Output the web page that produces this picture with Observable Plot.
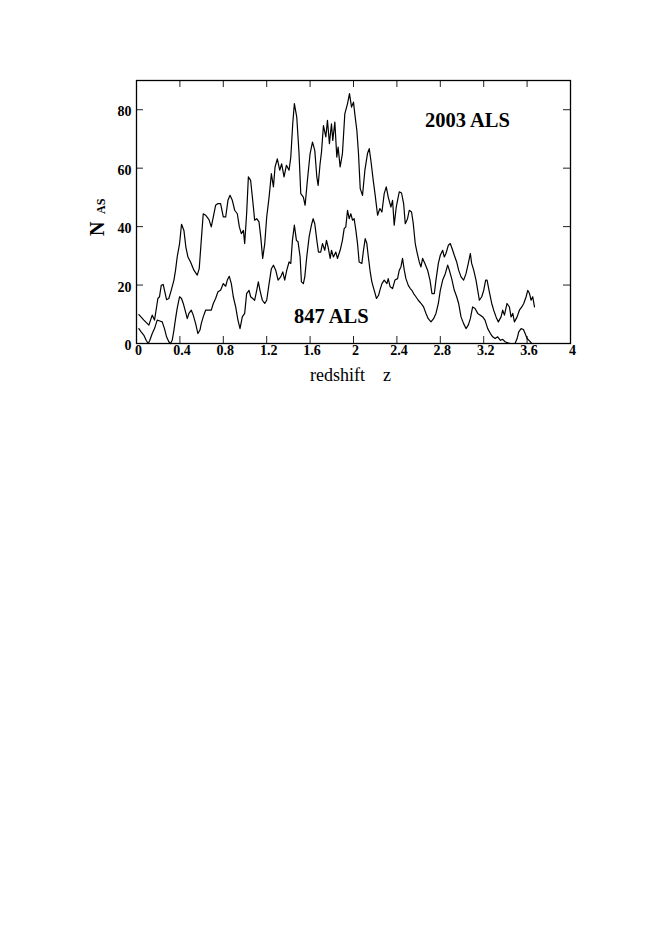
<!DOCTYPE html>
<html>
<head>
<meta charset="utf-8">
<script src="https://cdn.jsdelivr.net/npm/d3@7"></script>
<script src="https://cdn.jsdelivr.net/npm/@observablehq/plot@0.6"></script>
<style>
  html, body { margin: 0; padding: 0; background: #fff; }
  #chart svg { display: block; }
</style>
</head>
<body>
<div id="chart"></div>
<script>
// 2003 ALS sample
const zUpper = [0.022,0.068,0.114,0.145,0.166,0.185,0.197,0.212,0.228,0.246,0.258,0.277,0.298,0.320,0.345,0.360,0.375,0.397,0.415,0.437,0.455,0.474,0.498,0.529,0.560,0.578,0.597,0.615,0.637,0.668,0.689,0.708,0.729,0.751,0.775,0.800,0.822,0.843,0.862,0.883,0.905,0.929,0.948,0.966,0.985,0.997,1.015,1.031,1.052,1.074,1.089,1.108,1.129,1.145,1.163,1.182,1.200,1.222,1.243,1.262,1.277,1.298,1.320,1.338,1.360,1.382,1.406,1.422,1.440,1.455,1.477,1.498,1.514,1.538,1.554,1.575,1.600,1.622,1.643,1.662,1.674,1.692,1.705,1.723,1.745,1.760,1.778,1.797,1.809,1.828,1.846,1.858,1.877,1.898,1.920,1.945,1.963,1.982,2.000,2.012,2.031,2.046,2.062,2.083,2.105,2.129,2.145,2.160,2.182,2.200,2.222,2.243,2.262,2.283,2.302,2.320,2.345,2.360,2.375,2.394,2.412,2.422,2.443,2.462,2.477,2.498,2.514,2.535,2.551,2.569,2.585,2.606,2.622,2.637,2.658,2.683,2.705,2.723,2.745,2.760,2.782,2.800,2.822,2.837,2.852,2.874,2.892,2.914,2.929,2.951,2.969,2.991,3.015,3.037,3.058,3.077,3.089,3.108,3.129,3.145,3.160,3.182,3.200,3.218,3.231,3.252,3.274,3.292,3.314,3.335,3.360,3.375,3.391,3.415,3.437,3.452,3.468,3.483,3.508,3.529,3.551,3.569,3.591,3.606,3.622,3.637,3.652,3.668];
const nUpper = [9.9,8.0,6.3,9.7,8.0,12.5,15.4,16.0,19.9,20.2,18.2,15.0,15.4,18.2,21.7,25.1,29.6,34.2,40.8,38.7,33.0,29.6,27.9,25.1,23.4,25.6,35.3,44.4,43.9,42.4,39.9,43.3,47.3,47.9,47.9,43.3,43.3,49.0,50.7,49.0,45.6,44.4,39.9,37.6,38.7,34.2,44.4,57.0,55.8,47.9,42.2,42.7,41.6,36.5,29.1,34.2,43.3,50.1,58.1,53.6,60.4,63.2,59.3,61.5,57.0,61.0,59.3,63.8,75.2,82.1,77.5,65.0,51.3,50.1,47.3,55.8,65.0,68.9,66.1,57.0,54.1,61.5,65.5,74.6,70.7,76.4,68.4,75.2,69.5,75.8,63.8,67.2,60.4,65.0,78.6,82.1,85.5,80.9,82.6,78.6,72.9,65.0,53.0,50.7,59.3,65.0,66.7,62.7,55.8,50.7,43.9,46.2,45.0,51.3,53.6,50.1,46.7,49.0,40.5,46.7,50.1,51.9,51.5,47.9,41.0,42.7,45.6,45.0,41.0,34.2,31.3,27.9,26.2,29.1,27.4,25.1,21.7,17.1,17.1,21.7,27.4,30.2,31.9,29.6,30.8,33.6,34.2,31.9,30.2,27.9,25.1,22.8,21.7,23.9,27.4,30.8,27.4,25.1,21.7,18.2,14.8,16.0,18.2,21.7,21.7,17.7,13.7,11.4,9.1,7.4,9.1,11.4,9.7,13.7,12.5,9.1,10.3,7.4,9.1,11.4,12.5,13.7,16.0,18.2,17.1,14.8,16.0,12.5];

// 847 ALS sample
const zLower = [0.022,0.043,0.068,0.089,0.108,0.123,0.145,0.166,0.191,0.215,0.237,0.258,0.277,0.298,0.314,0.329,0.345,0.360,0.375,0.397,0.415,0.431,0.452,0.468,0.483,0.505,0.523,0.545,0.566,0.585,0.597,0.615,0.637,0.668,0.689,0.708,0.729,0.751,0.775,0.800,0.822,0.837,0.855,0.874,0.892,0.914,0.935,0.954,0.975,0.997,1.015,1.037,1.052,1.071,1.089,1.108,1.123,1.138,1.160,1.182,1.200,1.222,1.243,1.262,1.283,1.305,1.329,1.348,1.366,1.385,1.406,1.422,1.437,1.455,1.474,1.489,1.508,1.520,1.538,1.551,1.569,1.591,1.612,1.628,1.643,1.662,1.677,1.698,1.714,1.735,1.751,1.766,1.785,1.797,1.815,1.837,1.852,1.877,1.898,1.914,1.929,1.945,1.960,1.975,1.991,2.006,2.022,2.037,2.052,2.077,2.092,2.108,2.123,2.135,2.154,2.169,2.191,2.212,2.231,2.243,2.262,2.283,2.308,2.320,2.338,2.360,2.382,2.406,2.422,2.437,2.452,2.468,2.483,2.505,2.523,2.538,2.554,2.575,2.597,2.622,2.646,2.668,2.689,2.714,2.738,2.760,2.782,2.800,2.822,2.846,2.868,2.883,2.905,2.929,2.951,2.969,2.991,3.015,3.037,3.058,3.077,3.098,3.120,3.145,3.169,3.191,3.212,3.237,3.262,3.283,3.305,3.329,3.354,3.375,3.397,3.422,3.446,3.489,3.508,3.523,3.545,3.566,3.582,3.600,3.622,3.643,3.662];
const nLower = [5.1,4.0,2.8,1.1,0,1.1,3.4,5.1,8.0,7.7,7.4,5.1,2.3,0.6,0,1.1,4.6,8.5,12.0,16.0,15.4,13.7,10.8,8.5,10.3,11.4,9.7,6.8,3.4,4.6,6.8,9.1,11.4,11.4,11.4,13.7,15.4,17.7,18.2,20.5,19.6,21.7,23.0,20.5,16.0,12.5,8.0,5.1,9.1,10.3,17.1,18.2,16.0,15.4,14.8,18.2,21.1,18.2,14.8,13.7,14.8,20.5,25.6,26.8,25.1,21.7,22.8,24.5,21.7,25.1,27.9,27.4,35.3,40.5,35.3,34.8,29.6,21.1,20.5,22.8,29.6,36.5,40.5,42.7,41.0,35.3,31.3,31.3,34.2,31.9,35.3,33.0,29.1,31.9,29.6,31.3,29.1,31.9,35.3,39.3,39.9,45.6,42.7,44.4,42.2,42.7,38.7,34.2,27.9,27.4,31.9,35.9,34.2,30.2,24.5,21.1,18.2,15.4,16.5,18.2,20.5,21.7,20.5,22.2,19.4,18.8,21.7,22.2,25.1,26.2,29.1,25.1,22.2,19.9,18.8,18.2,17.1,16.0,14.8,13.7,12.5,10.3,8.5,7.4,8.5,10.3,13.7,18.2,21.7,23.9,26.8,25.1,22.2,18.2,16.0,13.7,9.1,6.8,5.1,6.3,8.5,12.5,12.0,10.3,9.7,9.1,8.0,5.1,3.4,2.3,1.7,2.3,1.1,1.4,0.6,0.2,0,0,1.7,4.0,5.1,4.8,3.4,1.7,0.9,0,0];

const xTicks = [0, 0.4, 0.8, 1.2, 1.6, 2, 2.4, 2.8, 3.2, 3.6, 4];
const xTickLabels = ["0", "0.4", "0.8", "1.2", "1.6", "2", "2.4", "2.8", "3.2", "3.6", "4"];
const yTicks = [0, 20, 40, 60, 80];
const yTickLabels = ["0", "20", "40", "60", "80"];
const seriesLabels = [
  {z: 3.05, n: 76.3, text: "2003 ALS"},
  {z: 1.795, n: 9.2, text: "847 ALS"}
];

const upper = zUpper.map((z, i) => ({z, n: nUpper[i]}));
const lower = zLower.map((z, i) => ({z, n: nLower[i]}));

const W = 654, H = 400;
const mL = 136, mR = 84, mT = 80, mB = 57;
const innerW = W - mL - mR, innerH = H - mT - mB;
const tickLen = 7;
const serif = "'Liberation Serif', 'Times New Roman', serif";

const chart = Plot.plot({
  width: W,
  height: H,
  marginLeft: mL,
  marginRight: mR,
  marginTop: mT,
  marginBottom: mB,
  style: {fontFamily: serif, background: "#fff", color: "#000", overflow: "visible"},
  x: {domain: [0, 4], axis: null},
  y: {domain: [0, 90], axis: null},
  marks: [
    // inward ticks
    Plot.tickX(xTicks, {x: d => d, insetTop: innerH - tickLen, stroke: "#222", strokeWidth: 1}),
    Plot.tickX(xTicks, {x: d => d, insetBottom: innerH - tickLen, stroke: "#222", strokeWidth: 1}),
    Plot.tickY(yTicks, {y: d => d, insetRight: innerW - tickLen, stroke: "#222", strokeWidth: 1}),
    Plot.tickY(yTicks, {y: d => d, insetLeft: innerW - tickLen, stroke: "#222", strokeWidth: 1}),
    // tick labels
    Plot.text(xTicks, {x: d => d, text: (d, i) => xTickLabels[i], frameAnchor: "bottom", lineAnchor: "top",
      dx: 2, dy: 2, fontSize: 14, fontWeight: "bold", fill: "#000"}),
    Plot.text(yTicks, {y: d => d, text: (d, i) => yTickLabels[i], frameAnchor: "left", textAnchor: "end",
      dx: -5, dy: 2, fontSize: 14, fontWeight: "bold", fill: "#000"}),
    Plot.line(upper, {x: "z", y: "n", stroke: "#000", strokeWidth: 1.2}),
    Plot.line(lower, {x: "z", y: "n", stroke: "#000", strokeWidth: 1.2}),
    Plot.frame({stroke: "#000", strokeWidth: 1.3}),
    Plot.text(seriesLabels, {x: "z", y: "n", text: "text", fontSize: 20.5, fontWeight: "bold", fill: "#000"}),
    // axis titles
    Plot.text(["redshift    z"], {frameAnchor: "bottom", dx: -3, dy: 37, fontSize: 18, fill: "#000"}),
    Plot.text(["N"], {frameAnchor: "left", rotate: -90, dx: -39, dy: 24, fontSize: 20, fontWeight: "bold", fill: "#000"}),
    Plot.text(["AS"], {frameAnchor: "left", rotate: -90, dx: -35, dy: 2, fontSize: 12, fontWeight: "bold", fill: "#000"})
  ]
});
document.getElementById("chart").appendChild(chart);
</script>
</body>
</html>
